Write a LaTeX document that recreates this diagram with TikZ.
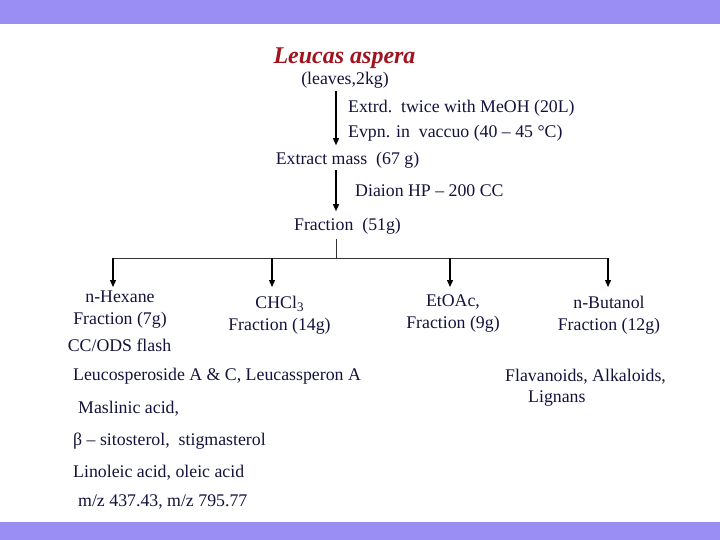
\documentclass[tikz,border=0pt]{standalone}
\usepackage{fontspec}
\setmainfont{Liberation Serif}
\usetikzlibrary{arrows.meta}
\definecolor{barc}{RGB}{154,142,245}
\definecolor{txt}{RGB}{18,18,60}
\definecolor{ttl}{RGB}{160,20,30}
\tikzset{
  lbl/.style={inner sep=0pt, yshift=-1.5pt, text=txt, font=\fontsize{17.8}{22}\selectfont},
  arr/.style={draw=black, line width=1.3pt, -{Triangle[width=6pt,length=7pt]}},
  thin/.style={draw=black!80, line width=0.8pt}
}
\begin{document}
\begin{tikzpicture}[x=1pt,y=-1pt]
\useasboundingbox (0,0) rectangle (720,540);
\fill[barc] (0,0) rectangle (720,24);
\fill[barc] (0,522) rectangle (720,540);
\node[lbl, text=ttl, font=\fontsize{24}{28}\selectfont\bfseries\itshape] (title) at (344.5,57) {Leucas aspera};
\node[lbl] (leaves) at (345,79) {(leaves,2kg)};
\node[lbl, anchor=west] (s1) at (348,107) {Extrd.\ \ twice with MeOH (20L)};
\node[lbl, anchor=west] (s2) at (348,132) {Evpn. in\ \ vaccuo (40 – 45 °C)};
\node[lbl] (extract) at (347.5,159) {Extract mass\ \ (67 g)};
\node[lbl, anchor=west] (s3) at (355,189) {Diaion HP – 200 CC};
\node[lbl] (frac) at (347.5,225) {Fraction\ \ (51g)};
\coordinate (ax) at (336,0);
\coordinate (bus) at (336,258);
\coordinate (tip) at (0,287);
\draw[arr, shorten <=2pt, shorten >=7pt] (leaves.south -| ax) -- (extract.north -| ax);
\draw[arr, shorten <=1pt, shorten >=7pt] (extract.south -| ax) -- (frac.north -| ax);
\node[lbl, align=center] (hex) at (120,308) {n-Hexane\\Fraction (7g)};
\node[lbl] (ods) at (119.5,344) {CC/ODS flash};
\node[lbl, align=center] (chl) at (279.5,314) {CHCl{\fontsize{13}{13}\selectfont\raisebox{-3pt}{3}}\\Fraction (14g)};
\node[lbl, align=center] (eto) at (453,312) {EtOAc,\\Fraction (9g)};
\node[lbl, align=center] (but) at (609,314) {n-Butanol\\Fraction (12g)};
\coordinate (xh) at (113,0);
\coordinate (xc) at (272,0);
\coordinate (xe) at (450,0);
\coordinate (xb) at (608,0);
\draw[thin] (frac.south -| ax) ++(0,4) -- (bus);
\draw[thin] (bus -| xh) -- (bus -| xb);
\draw[arr] (bus -| xh) -- (tip -| xh);
\draw[arr] (bus -| xc) -- (tip -| xc);
\draw[arr] (bus -| xe) -- (tip -| xe);
\draw[arr] (bus -| xb) -- (tip -| xb);
\node[lbl, anchor=west] (r1) at (73,375) {Leucosperoside A \& C, Leucassperon A};
\node[lbl, anchor=west] (r2) at (78,407) {Maslinic acid,};
\node[lbl, anchor=west] (r3) at (73,440) {β – sitosterol,\ \ stigmasterol};
\node[lbl, anchor=west] (r4) at (73,471) {Linoleic acid, oleic acid};
\node[lbl, anchor=west] (r5) at (78,500) {m/z 437.43, m/z 795.77};
\node[lbl, anchor=west] (fl) at (505,375) {Flavanoids, Alkaloids,};
\node[lbl, anchor=west] (lig) at (528,397) {Lignans};
\end{tikzpicture}
\end{document}
